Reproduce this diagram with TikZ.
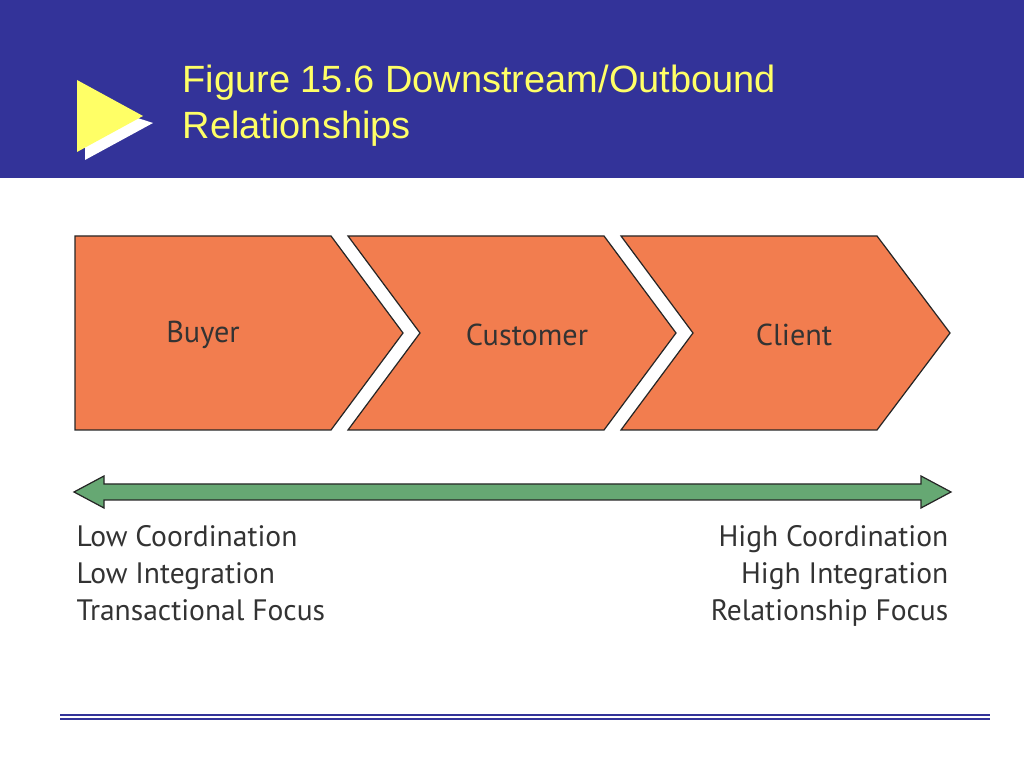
\documentclass[tikz,border=0pt]{standalone}
\usepackage{fontspec}
\setmainfont{Liberation Sans}
\newfontfamily\figfont{PT Sans}
\usetikzlibrary{arrows.meta}
\definecolor{bandblue}{rgb}{0.20,0.20,0.60}
\definecolor{titleyel}{rgb}{1,1,0.40}
\definecolor{chevfill}{rgb}{0.95,0.49,0.31}
\definecolor{bargreen}{rgb}{0.40,0.66,0.45}
\tikzset{
  chev/.style={fill=chevfill,draw=black!85,line width=0.35pt,line join=miter},
  lbl/.style={font=\figfont\fontsize{8.6}{10}\selectfont,text=black!80,inner sep=0pt},
  side/.style={font=\figfont\fontsize{8.4}{10.5}\selectfont,text=black!80,inner sep=0pt}
}
\begin{document}
\begin{tikzpicture}[x=0.01cm,y=-0.01cm]
\useasboundingbox (0,0) rectangle (1024,768);
\fill[bandblue] (0,0) rectangle (1024,178);
\fill[white] (85,101) -- (153,123) -- (85,160) -- cycle;
\fill[titleyel] (77,80) -- (143,116) -- (77,152) -- cycle;
\node[anchor=north west,text=titleyel,font=\fontsize{10.8}{13.2}\selectfont,align=left,inner sep=0pt] (title) at (182,64) {Figure 15.6 Downstream/Outbound\\Relationships};
% chevrons
\draw[chev] (75,236) -- (331,236) -- (403,333) -- (331,430) -- (75,430) -- cycle;
\draw[chev] (348,236) -- (604,236) -- (676,333) -- (604,430) -- (348,430) -- (420,333) -- cycle;
\draw[chev] (621,236) -- (877,236) -- (950,333) -- (877,430) -- (621,430) -- (693,333) -- cycle;
\node[lbl] (buyer) at (203,335) {Buyer};
\node[lbl] (customer) at (527,335) {Customer};
\node[lbl] (client) at (794,335) {Client};
% scale bar
\coordinate (lo) at (74,492);
\coordinate (hi) at (951,492);
\draw[draw=black!85,line width=0.35pt,fill=bargreen]
  (74,492) -- (104,476) -- (104,484) -- (921,484) -- (921,476) -- (951,492)
  -- (921,508) -- (921,500) -- (104,500) -- (104,508) -- cycle;
\node[side,anchor=north west,align=left] (low) at (76,525) {Low Coordination\\Low Integration\\Transactional Focus};
\node[side,anchor=north east,align=right] (high) at (949,525) {High Coordination\\High Integration\\Relationship Focus};
% footer rules
\draw[bandblue,line width=0.6pt] (60,715) -- (990,715);
\draw[bandblue,line width=0.6pt] (60,719) -- (990,719);
\end{tikzpicture}
\end{document}
